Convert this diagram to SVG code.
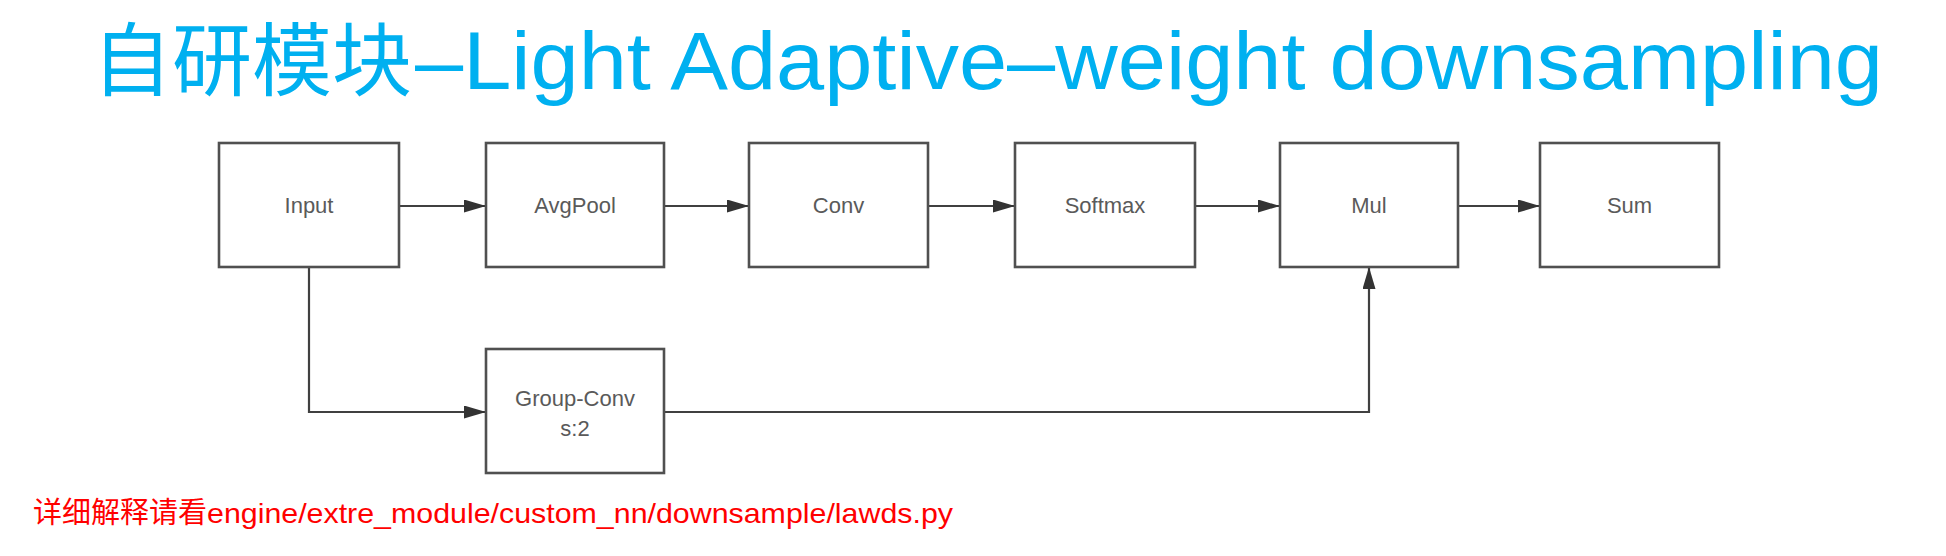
<svg xmlns="http://www.w3.org/2000/svg" width="1946" height="556" viewBox="0 0 1946 556">
<style>
.box{fill:#fff;stroke:#505050;stroke-width:2.6}
.lbl{font-family:"Liberation Sans","Noto Sans",sans-serif;font-size:22px;fill:#5a5a5a;text-anchor:middle}
.con{fill:none;stroke:#404040;stroke-width:2.2}
.title{font-family:"Liberation Sans","Noto Sans CJK SC",sans-serif;fill:#00b0f0}
.note{font-family:"Liberation Sans","Noto Sans CJK SC",sans-serif;fill:#ff0000}
</style>
<defs>
<marker id="arr" markerWidth="22" markerHeight="13" refX="22" refY="6.5" orient="auto" markerUnits="userSpaceOnUse">
<path d="M0,0 L22,6.5 L0,13 Z" fill="#333"/>
</marker>
</defs>
<rect width="1946" height="556" fill="#fff"/>
<text class="title" x="92" y="89" font-size="80">自研模块</text>
<text class="title" x="415" y="89" font-size="82" textLength="1468" lengthAdjust="spacingAndGlyphs">–Light Adaptive–weight downsampling</text>
<g id="connectors">
<line class="con" x1="399" y1="206" x2="486" y2="206" marker-end="url(#arr)"/>
<line class="con" x1="664" y1="206" x2="749" y2="206" marker-end="url(#arr)"/>
<line class="con" x1="928" y1="206" x2="1015" y2="206" marker-end="url(#arr)"/>
<line class="con" x1="1195" y1="206" x2="1280" y2="206" marker-end="url(#arr)"/>
<line class="con" x1="1458" y1="206" x2="1540" y2="206" marker-end="url(#arr)"/>
<polyline class="con" points="309,267 309,412 486,412" marker-end="url(#arr)"/>
<polyline class="con" points="664,412 1369,412 1369,267" marker-end="url(#arr)"/>
</g>
<g id="input"><rect class="box" x="219" y="143" width="180" height="124"/><text class="lbl" x="309" y="213">Input</text></g>
<g id="avgpool"><rect class="box" x="486" y="143" width="178" height="124"/><text class="lbl" x="575" y="213">AvgPool</text></g>
<g id="conv"><rect class="box" x="749" y="143" width="179" height="124"/><text class="lbl" x="838.5" y="213">Conv</text></g>
<g id="softmax"><rect class="box" x="1015" y="143" width="180" height="124"/><text class="lbl" x="1105" y="213">Softmax</text></g>
<g id="mul"><rect class="box" x="1280" y="143" width="178" height="124"/><text class="lbl" x="1369" y="213">Mul</text></g>
<g id="sum"><rect class="box" x="1540" y="143" width="179" height="124"/><text class="lbl" x="1629.5" y="213">Sum</text></g>
<g id="groupconv"><rect class="box" x="486" y="349" width="178" height="124"/><text class="lbl" x="575" y="406">Group-Conv</text><text class="lbl" x="575" y="436">s:2</text></g>
<text class="note" x="33" y="523" font-size="29">详细解释请看</text>
<text class="note" x="207" y="523" font-size="28" textLength="746" lengthAdjust="spacingAndGlyphs">engine/extre_module/custom_nn/downsample/lawds.py</text>
</svg>
